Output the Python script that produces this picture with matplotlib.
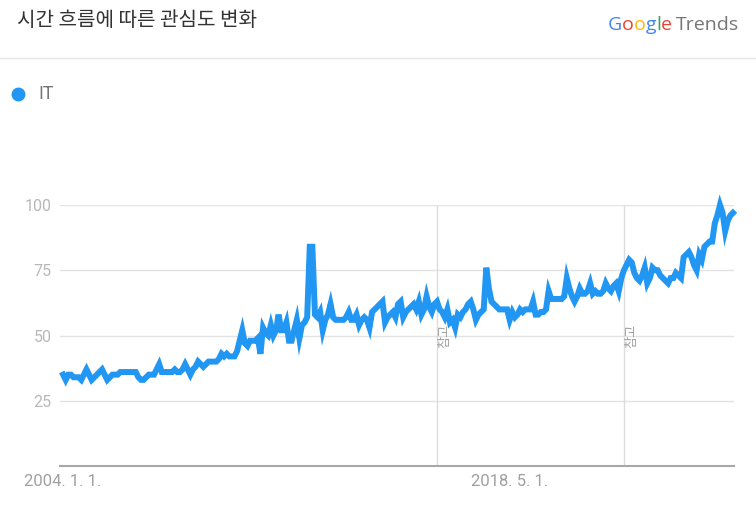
import numpy as np
import matplotlib
matplotlib.use('Agg')
import matplotlib.pyplot as plt

plt.rcParams['font.family'] = ['Roboto', 'Noto Sans CJK KR', 'DejaVu Sans']

# Monthly interest for "IT", 2004-01 .. 2025-07
interest = [
    35, 33, 35, 35, 34, 34, 34, 33, 35, 37, 35, 33,   # 2004
    34, 35, 36, 37, 35, 33, 34, 35, 35, 35, 36, 36,   # 2005
    36, 36, 36, 36, 36, 34, 33, 33, 34, 35, 35, 35,   # 2006
    37, 39, 36, 36, 36, 36, 36, 37, 36, 36, 37, 39,   # 2007
    37, 35, 37, 38, 40, 39, 38, 39, 40, 40, 40, 40,   # 2008
    41, 43, 42, 43, 42, 42, 42, 44, 48, 52, 47, 46,   # 2009
    48, 48, 48, 49, 43, 53, 51, 50, 54, 50, 52, 58,   # 2010
    52, 52, 55, 48, 48, 52, 56, 49, 54, 55, 57, 84,   # 2011
    84, 58, 57, 59, 52, 56, 58, 62, 57, 56, 56, 56,   # 2012
    56, 57, 59, 56, 56, 58, 54, 56, 57, 56, 53, 59,   # 2013
    60, 61, 62, 63, 55, 57, 58, 59, 57, 62, 63, 57,   # 2014
    59, 60, 61, 62, 60, 63, 58, 60, 65, 61, 59, 62,   # 2015
    63, 60, 59, 57, 60, 55, 56, 53, 58, 57, 59, 60,   # 2016
    62, 63, 60, 56, 58, 59, 60, 76, 68, 63, 62, 61,   # 2017
    60, 60, 60, 60, 56, 59, 57, 58, 60, 59, 60, 60,   # 2018
    60, 63, 58, 58, 59, 59, 60, 67, 64, 64, 64, 64,   # 2019
    64, 65, 72, 68, 65, 63, 65, 68, 66, 66, 67, 70,   # 2020
    66, 67, 66, 66, 67, 70, 68, 67, 69, 70, 67, 72,   # 2021
    75, 77, 79, 78, 74, 72, 71, 73, 76, 70, 72, 76,   # 2022
    75, 75, 73, 72, 71, 70, 72, 72, 74, 73, 72, 80,   # 2023
    81, 82, 80, 77, 75, 81, 79, 84, 85, 86, 86, 93,   # 2024
    96, 100, 97, 90, 94, 96, 97,                      # 2025
]
months = np.arange(len(interest))

y_ticks = [25, 50, 75, 100]
x_ticks = [0, 172]
x_labels = ['2004. 1. 1.', '2018. 5. 1.']
note_months = [144, 216]   # 2016-01, 2022-01

blue = '#2196F3'

W, H = 756, 507
fig = plt.figure(figsize=(W / 100, H / 100), dpi=100)
renderer = fig.canvas.get_renderer()

# header
fig.text(17 / W, 1 - 21 / H, '시간 흐름에 따른 관심도 변화', fontsize=14.5,
         color='#333333', va='center', ha='left', family=['Noto Sans CJK KR'])
fig.add_artist(plt.Line2D([0, 1], [1 - 58 / H] * 2, color='#e6e6e6', lw=1))

# Google Trends logo, one letter after the other
logo = [('G', '#4285F4'), ('o', '#EA4335'), ('o', '#FBBC05'),
        ('g', '#4285F4'), ('l', '#34A853'), ('e', '#EA4335'),
        ('Trends', '#757575')]
x_px = 608
for ch, col in logo:
    t = fig.text(x_px / W, 1 - 30 / H, ch, color=col, fontsize=14,
                 va='baseline', ha='left', family=['Open Sans'])
    x_px = t.get_window_extent(renderer).x1
    if ch == 'e':
        x_px += 3

# legend
fig.add_artist(plt.Line2D([18 / W], [1 - 94 / H], marker='o', markersize=9,
                          color=blue, linestyle='none'))
fig.text(38 / W, 1 - 94 / H, 'IT', fontsize=13, color='#757575',
         va='center', ha='left')

# chart area
ax = fig.add_axes([60 / W, 41 / H, 674 / W, 261 / H])
ax.set_xlim(-1.2, 258.4)
ax.set_ylim(0, 100)

ax.set_yticks(y_ticks)
ax.set_yticklabels([str(v) for v in y_ticks])
ax.set_xticks(x_ticks)
ax.set_xticklabels(x_labels)
ax.tick_params(axis='y', length=0, pad=6, labelsize=11.5, labelcolor='#b8b8b8')
ax.tick_params(axis='x', length=0, pad=6, labelsize=12, labelcolor='#a0a0a0')

ax.yaxis.grid(True, color='#e3e3e3', lw=1)
ax.set_axisbelow(True)
for side in ['top', 'right', 'left']:
    ax.spines[side].set_visible(False)
ax.spines['bottom'].set_color('#a8a8a8')
ax.spines['bottom'].set_linewidth(1.5)

# data-collection notes
ax.vlines(note_months, 0, 100, color='#dcdcdc', lw=1, zorder=1)
for m in note_months:
    ax.text(m + 0.5, 50, '참고', rotation=90, fontsize=9.5, color='#a0a0a0',
            ha='left', va='center', family=['Noto Sans CJK KR'], zorder=2)

ax.plot(months, interest, color=blue, lw=4.3, clip_on=False, zorder=3,
        solid_joinstyle='miter')

fig.savefig('out.png', dpi=100)
